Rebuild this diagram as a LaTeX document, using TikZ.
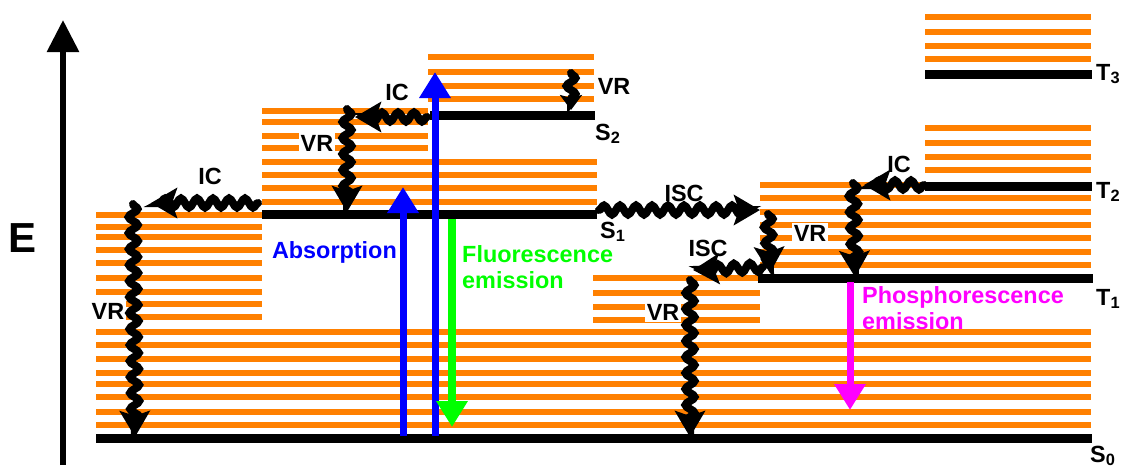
\documentclass[tikz,border=0pt]{standalone}
\usepackage{fontspec}
\setmainfont{Liberation Sans}
\usetikzlibrary{arrows.meta,decorations.pathmorphing}
\definecolor{vibor}{RGB}{255,128,0}
\definecolor{absblue}{RGB}{0,0,255}
\definecolor{flgreen}{RGB}{0,255,0}
\definecolor{phmag}{RGB}{255,0,255}
\begin{document}
\begin{tikzpicture}[x=1pt,y=-1pt,font=\bfseries\fontsize{23.4}{26}\selectfont,
  lvl/.style={line width=9pt},
  vib/.style={vibor,line width=6.5pt},
  wave/.style={line width=8pt,line cap=round,decorate,
    decoration={snake,amplitude=4.5pt,segment length=16pt,post length=8pt},
    -{Stealth[length=26pt,width=30pt,inset=5pt]}},
  rad/.style={line width=7pt,-{Triangle[length=26pt,width=30pt]}},
  gap/.style={fill=white,inner sep=1.5pt}]
  \useasboundingbox (0,0) rectangle (1125,467);
  % energy axis
  \draw[line width=6pt,-{Triangle[length=32pt,width=31pt]}] (63,465) -- (63,20);
  \node (lE) at (23,238) {\fontsize{42}{44}\selectfont E};
  % vibrational levels
  \foreach \y in {332,345,359,373,384,397,412,425} \draw[vib] (96,\y) -- (1091,\y);
  \foreach \y in {215,227,237,250,263,278,292,304,317} \draw[vib] (96,\y) -- (262,\y);
  \foreach \y in {111,122,136,148} \draw[vib] (262,\y) -- (428,\y);
  \foreach \y in {162,175,188,202} \draw[vib] (262,\y) -- (597,\y);
  \foreach \y in {57,72,86,99} \draw[vib] (428,\y) -- (594,\y);
  \foreach \y in {278,293,307,320} \draw[vib] (593,\y) -- (760,\y);
  \draw[vib] (760,185) -- (925,185);
  \foreach \y in {198,212,225,238,252,265} \draw[vib] (760,\y) -- (1091,\y);
  \foreach \y in {128,143,157,170} \draw[vib] (925,\y) -- (1091,\y);
  \foreach \y in {17,32,46,59} \draw[vib] (925,\y) -- (1091,\y);
  % electronic levels
  \draw[lvl] (96,438) -- (1092,438);
  \draw[lvl] (262,214) -- (597,214);
  \draw[lvl] (430,115) -- (595,115);
  \draw[lvl] (758,278) -- (1093,278);
  \draw[lvl] (925,186) -- (1092,186);
  \draw[lvl] (925,74) -- (1092,74);
  \node[anchor=base west,inner sep=0] (s0) at (1090,462) {S\textsubscript{0}};
  \node[anchor=base west,inner sep=0] (s1) at (600,238) {S\textsubscript{1}};
  \node[anchor=base west,inner sep=0] (s2) at (595,140) {S\textsubscript{2}};
  \node[anchor=base west,inner sep=0] (t1) at (1096,305) {T\textsubscript{1}};
  \node[anchor=base west,inner sep=0] (t2) at (1096,198) {T\textsubscript{2}};
  \node[anchor=base west,inner sep=0] (t3) at (1096,80) {T\textsubscript{3}};
  % labels
  \node[gap] (vrA) at (108,311) {VR};
  \node (icA) at (210,176) {IC};
  \node[gap] (vrB) at (317,143) {VR};
  \node (icB) at (397,92) {IC};
  \node (vrC) at (614,86) {VR};
  \node (iscA) at (684,193) {ISC};
  \node[gap] (vrD) at (810,233) {VR};
  \node (iscB) at (708,248) {ISC};
  \node[gap] (vrE) at (663,312) {VR};
  \node (icC) at (899,164) {IC};
  % radiative transitions
  \coordinate (ab1a) at (403,436); \coordinate (ab1b) at (403,187);
  \coordinate (ab2a) at (435,436); \coordinate (ab2b) at (435,72);
  \coordinate (fla) at (452,219); \coordinate (flb) at (452,427);
  \coordinate (pha) at (850,282); \coordinate (phb) at (850,410);
  \draw[rad,absblue] (ab1a) -- (ab1b);
  \draw[rad,absblue] (ab2a) -- (ab2b);
  \draw[rad,flgreen,line width=8pt] (fla) -- (flb);
  \draw[rad,phmag] (pha) -- (phb);
  \node[absblue,anchor=base east,inner sep=0] (labs) at (397,258) {Absorption};
  \node[flgreen,anchor=north west,inner sep=0,align=left] (lfl) at (462,245) {Fluorescence\\emission};
  \node[phmag,anchor=north west,inner sep=0,align=left] (lph) at (862,286) {Phosphorescence\\emission};
  % non-radiative transitions
  \coordinate (w1a) at (258,203); \coordinate (w1b) at (151,203);
  \coordinate (w2a) at (133,204); \coordinate (w2b) at (135,437);
  \coordinate (w3a) at (427,117); \coordinate (w3b) at (355,117);
  \coordinate (w4a) at (347,109); \coordinate (w4b) at (347,212);
  \coordinate (w5a) at (571,73);  \coordinate (w5b) at (571,110);
  \coordinate (w6a) at (599,210); \coordinate (w6b) at (760,210);
  \coordinate (w7a) at (768,214); \coordinate (w7b) at (770,273);
  \coordinate (w8a) at (763,267); \coordinate (w8b) at (693,270);
  \coordinate (w9a) at (690,280); \coordinate (w9b) at (690,437);
  \coordinate (w10a) at (924,185); \coordinate (w10b) at (864,185);
  \coordinate (w11a) at (853,183); \coordinate (w11b) at (855,277);
  \foreach \w in {1,2,3,4,6,7,8,9,10,11} \draw[wave] (w\w a) -- (w\w b);
  \draw[wave,-{Stealth[length=15pt,width=22pt,inset=3pt]},decoration={post length=6pt}] (w5a) -- (w5b);
\end{tikzpicture}
\end{document}
